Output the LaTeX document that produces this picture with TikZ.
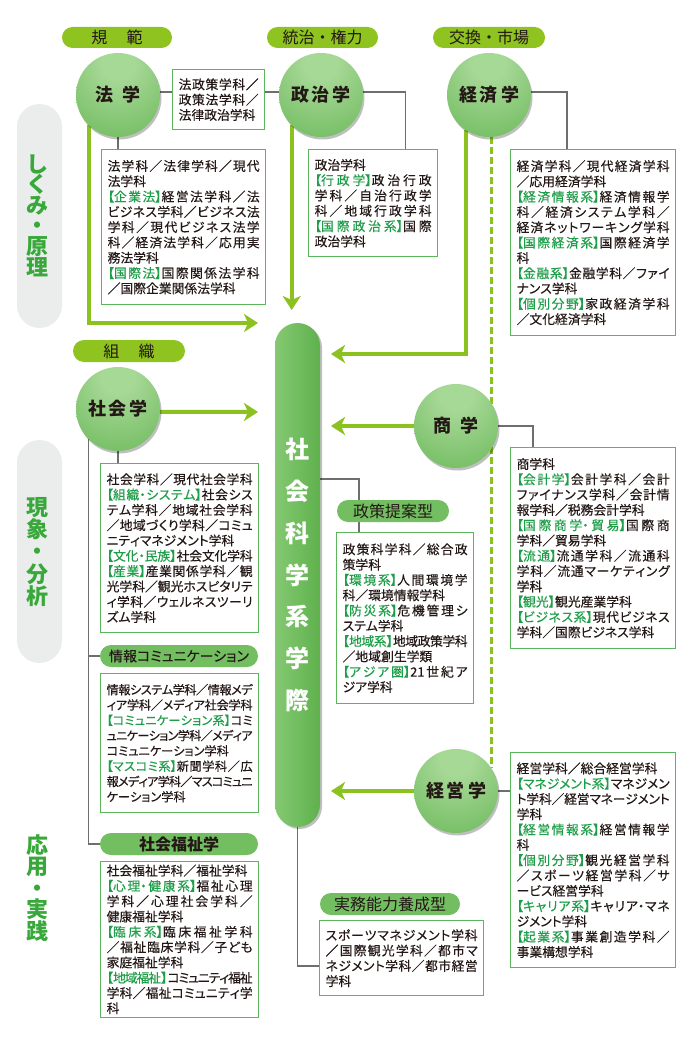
\documentclass[tikz,border=0pt]{standalone}
\usepackage{fontspec}
\setmainfont{Noto Sans CJK JP}[RawFeature=+palt,UprightFeatures={FakeBold=0.3}]
\newfontfamily\jfull{Noto Sans CJK JP}
\usetikzlibrary{arrows.meta,shadows}
\XeTeXlinebreaklocale "ja"
\XeTeXlinebreakskip=0pt plus 3pt minus 2pt
\tolerance=9000
\hbadness=10000
\definecolor{txt}{HTML}{231815}
\definecolor{pillY}{HTML}{8FC31F}
\definecolor{pillG}{HTML}{72BE61}
\definecolor{arrG}{HTML}{8CC21F}
\definecolor{boxG}{HTML}{5BB65C}
\definecolor{lblG}{HTML}{1E9E48}
\definecolor{catG}{HTML}{38A83A}
\definecolor{grayBg}{HTML}{EBEDEC}
\definecolor{lineGray}{HTML}{6E6E6E}
\definecolor{cirL}{HTML}{A6D896}
\definecolor{cirD}{HTML}{56AD44}
\definecolor{barL}{HTML}{84C972}
\definecolor{barR}{HTML}{5FB14D}
\pgfdeclareradialshading{ballg}{\pgfpoint{0bp}{22bp}}{color(0bp)=(cirL); color(10bp)=(cirL); color(58bp)=(cirD); color(80bp)=(cirD)}
\pgfdeclarelayer{bgA}\pgfdeclarelayer{bgB}\pgfsetlayers{bgA,bgB,main}
\newcommand\jbr{\linebreak}
\newcommand\kl[1]{{\color{lblG}#1}}
\begin{document}
\begin{tikzpicture}[x=1pt,y=-1pt,
 circ/.style={circle,minimum size=84pt,inner sep=0pt,shade,shading=ballg,drop shadow={shadow xshift=1.5pt,shadow yshift=-2.5pt,opacity=0.25,fill=black},text=txt,font=\jfull\fontsize{18}{20}\selectfont\bfseries},
 kbox/.style={draw=boxG,line width=1.3pt,fill=white,anchor=north west,inner xsep=6pt,inner ysep=3pt,align=justify,text=txt,font=\fontsize{12.8}{15.3}\selectfont},
 topP/.style={fill=pillY,rounded corners=10.5pt,minimum height=21pt,inner sep=0pt,text=txt,font=\jfull\fontsize{16}{17}\selectfont},
 lowP/.style={fill=pillG,rounded corners=11pt,minimum height=22pt,inner sep=0pt,text=txt,font=\jfull\fontsize{16}{17}\selectfont},
 catP/.style={fill=grayBg,rounded corners=22.5pt,minimum width=45pt,inner sep=0pt},
 catT/.style={text=catG,align=center,inner sep=0pt,font=\jfull\bfseries\fontsize{22}{#1}\selectfont},
 barN/.style={rectangle,rounded corners=22.5pt,minimum width=45pt,minimum height=504pt,inner sep=0pt,left color=barL,right color=barR,drop shadow={shadow xshift=2pt,shadow yshift=-2pt,opacity=0.25,fill=black},text=white,align=center,font=\jfull\bfseries\fontsize{24}{41.8}\selectfont},
 gline/.style={draw=lineGray,line width=1.5pt},
 garr/.style={draw=arrG,line width=4pt,-{Stealth[length=14pt,width=18pt,inset=4pt]}},
 gdash/.style={draw=arrG,line width=3pt,dash pattern=on 6.5pt off 3.5pt}]
\useasboundingbox (0,0) rectangle (691,1038);

% ---------- circles and bar ----------
\node[circ] (hou) at (118,95) {法\hspace{9pt}学};
\node[circ] (seiji) at (321,95) {政\hspace{3pt}治\hspace{3pt}学};
\node[circ] (keizai) at (489,95) {経\hspace{3pt}済\hspace{3pt}学};
\node[circ] (shakai) at (118,409) {社\hspace{3pt}会\hspace{3pt}学};
\node[circ] (shou) at (456,426) {商\hspace{9pt}学};
\node[circ] (keiei) at (456,791) {経\hspace{3pt}営\hspace{3pt}学};
\node[barN] (bar) at (297.5,575) {社\\会\\科\\学\\系\\学\\際};

% ---------- pills ----------
\node[topP,minimum width=110pt] (pKihan) at (117,37.5) {規\hspace{1.2em}範};
\node[topP,minimum width=111pt] (pTouchi) at (322.5,37.5) {統治・権力};
\node[topP,minimum width=112pt] (pKoukan) at (489,37.5) {交換・市場};
\node[topP,minimum width=112pt,minimum height=22pt,rounded corners=11pt] (pSoshiki) at (129,351) {組\hspace{1.2em}織};
\node[lowP,minimum width=158pt,font=\fontsize{14}{16}\selectfont] (pJoho) at (179,656) {情報コミュニケーション};
\node[lowP,minimum width=158pt,font=\jfull\bfseries\fontsize{16}{17}\selectfont] (pFuku) at (179,844) {社会福祉学};
\node[lowP,minimum width=112pt] (pSeisaku) at (393,511) {政策提案型};
\node[lowP,minimum width=140pt] (pJitsu) at (390,904) {実務能力養成型};

% ---------- boxes ----------
\node[kbox,text width=80pt,minimum height=60pt] (hpbox) at (172,69) {法政策学科／\jbr 政策法学科／\jbr 法律政治学科};
\node[kbox,text width=152pt,minimum height=155pt] (houbox) at (101,149) {法学科／法律学科／現代\jbr 法学科\par\kl{【企業法】}経営法学科／法\jbr ビジネス学科／ビジネス法\jbr 学科／現代ビジネス法学\jbr 科／経済法学科／応用実\jbr 務法学科\par\kl{【国際法】}国際関係法学科\jbr／国際企業関係法学科};
\node[kbox,text width=117pt,minimum height=107pt] (seijibox) at (308,149) {政治学科\par\kl{【行政学】}政治行政\jbr 学科／自治行政学\jbr 科／地域行政学科\jbr\kl{【国際政治系】}国際\jbr 政治学科};
\node[kbox,text width=153pt,minimum height=186pt] (keizaibox) at (510,149) {経済学科／現代経済学科\jbr／応用経済学科\par\kl{【経済情報系】}経済情報学\jbr 科／経済システム学科／\jbr 経済ネットワーキング学科\jbr\kl{【国際経済系】}国際経済学\jbr 科\par\kl{【金融系】}金融学科／ファイ\jbr ナンス学科\par\kl{【個別分野】}家政経済学科\jbr／文化経済学科};
\node[kbox,text width=146pt,minimum height=169pt] (shakaibox) at (100,463) {社会学科／現代社会学科\jbr\kl{【組織・システム】}社会シス\jbr テム学科／地域社会学科\jbr／地域づくり学科／コミュ\jbr ニティマネジメント学科\par\kl{【文化・民族】}社会文化学科\jbr\kl{【産業】}産業関係学科／観\jbr 光学科／観光ホスピタリテ\jbr ィ学科／ウェルネスツーリ\jbr ズム学科};
\node[kbox,text width=146pt,minimum height=139pt,font=\fontsize{12.2}{15.3}\selectfont] (johobox) at (100,673) {情報システム学科／情報メデ\jbr ィア学科／メディア社会学科\jbr\kl{【コミュニケーション系】}コミ\jbr ュニケーション学科／メディア\jbr コミュニケーション学科\par\kl{【マスコミ系】}新聞学科／広\jbr 報メディア学科／マスコミュニ\jbr ケーション学科};
\node[kbox,text width=146pt,minimum height=151pt] (fukubox) at (100,861) {社会福祉学科／福祉学科\par\kl{【心理・健康系】}福祉心理\jbr 学科／心理社会学科／\jbr 健康福祉学科\par\kl{【臨床系】}臨床福祉学科\jbr／福祉臨床学科／子ども\jbr 家庭福祉学科\par\kl{【地域福祉】}コミュニティ福祉\jbr 学科／福祉コミュニティ学科};
\node[kbox,text width=125pt,minimum height=171pt] (seisakubox) at (336,532) {政策科学科／総合政\jbr 策学科\par\kl{【環境系】}人間環境学\jbr 科／環境情報学科\par\kl{【防災系】}危機管理シ\jbr ステム学科\par\kl{【地域系】}地域政策学科\jbr／地域創生学類\par\kl{【アジア圏】}21世紀ア\jbr ジア学科};
\node[kbox,text width=153pt,minimum height=201pt] (shoubox) at (510,447) {商学科\par\kl{【会計学】}会計学科／会計\jbr ファイナンス学科／会計情\jbr 報学科／税務会計学科\par\kl{【国際商学・貿易】}国際商\jbr 学科／貿易学科\par\kl{【流通】}流通学科／流通科\jbr 学科／流通マーケティング\jbr 学科\par\kl{【観光】}観光産業学科\par\kl{【ビジネス系】}現代ビジネス\jbr 学科／国際ビジネス学科};
\node[kbox,text width=153pt,minimum height=215pt] (keieibox) at (510,752) {経営学科／総合経営学科\par\kl{【マネジメント系】}マネジメン\jbr ト学科／経営マネージメント\jbr 学科\par\kl{【経営情報系】}経営情報学\jbr 科\par\kl{【個別分野】}観光経営学科\jbr／スポーツ経営学科／サ\jbr ービス経営学科\par\kl{【キャリア系】}キャリア・マネ\jbr ジメント学科\par\kl{【起業系】}事業創造学科／\jbr 事業構想学科};
\node[kbox,text width=152pt,minimum height=75pt] (jitsubox) at (319,920) {スポーツマネジメント学科\jbr／国際観光学科／都市マ\jbr ネジメント学科／都市経営\jbr 学科};

% ---------- coordinates ----------
\coordinate (tipHou) at (258,323);
\coordinate (tipSeiji) at (292,310);
\coordinate (tipKeizai) at (331,354);
\coordinate (tipShakai) at (258,412);
\coordinate (tipShou) at (331,426);
\coordinate (tipKeiei) at (331,791);

% ---------- background ----------
\begin{pgfonlayer}{bgA}
\fill[white] (0,0) rectangle (691,1038);
\node[catP,minimum height=224pt] (cat1) at (39.5,216) {};
\node[catP,minimum height=223pt] (cat2) at (39.5,551.5) {};
\node[catT=20.6] (ct1) at (38,215.5) {し\\く\\み\\・\\原\\理};
\node[catT=22.3] (ct2) at (38,552) {現\\象\\・\\分\\析};
\node[catT=21.5] (ct3) at (38,888) {応\\用\\・\\実\\践};
\end{pgfonlayer}

% ---------- connectors ----------
\begin{pgfonlayer}{bgB}
\draw[gdash] (keizai.273) -- (keizai.273 |- keiei.34);
\draw[garr] (hou.226) |- (tipHou);
\draw[garr] (seiji.226) -- (seiji.226 |- tipSeiji);
\draw[garr] (keizai.237) |- (tipKeizai);
\draw[garr] (shakai.-4) -- (tipShakai);
\draw[garr] (shou.west) -- (tipShou);
\draw[garr] (keiei.west) -- (tipKeiei);
\draw[gline] (hou.4) -- (seiji.176);
\draw[gline] (hou.south) -- (hou.south |- houbox.north);
\draw[gline] (seiji.4) -| ([xshift=-33pt]seijibox.north east);
\draw[gline] (keizai.4) -| ([xshift=57pt]keizaibox.north west);
\draw[gline] (shakai.south) -- (shakai.south |- shakaibox.north);
\draw[gline] (shakai.226) |- (pFuku.west);
\draw[gline] (shakai.226 |- pJoho.west) -- (pJoho.west);
\draw[gline] (shou.east) -| ([xshift=23pt]shoubox.north west);
\draw[gline] (keiei.east) -- (keiei.east -| keieibox.west);
\draw[gline] (bar.east |- 0,479) -| ([xshift=23pt]seisakubox.north west);
\draw[gline] (bar.south) |- (jitsubox.west |- 0,966);
\end{pgfonlayer}
\end{tikzpicture}
\end{document}
